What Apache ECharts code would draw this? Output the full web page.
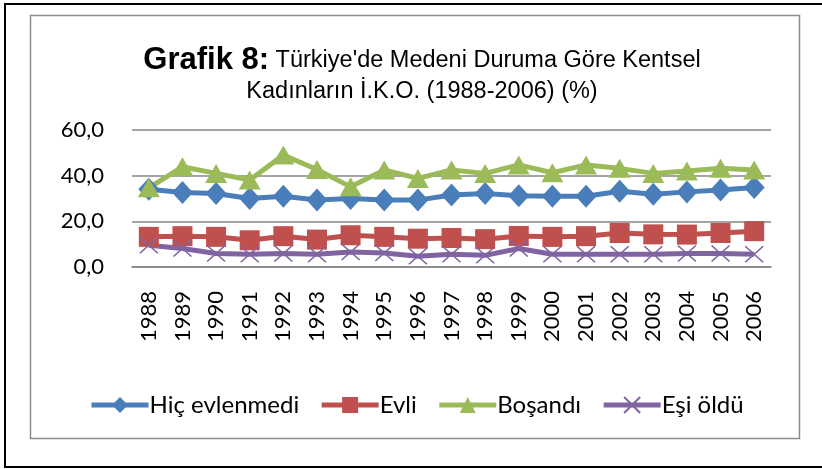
<!DOCTYPE html>
<html>
<head>
<meta charset="utf-8">
<script src="https://cdn.jsdelivr.net/npm/echarts@6/dist/echarts.min.js"></script>
<style>
  html, body { margin: 0; padding: 0; background: #fff; }
  #main { width: 822px; height: 469px; }
</style>
</head>
<body>
<div id="main"></div>
<script>
// veriler
var years = ['1988', '1989', '1990', '1991', '1992', '1993', '1994', '1995', '1996', '1997',
  '1998', '1999', '2000', '2001', '2002', '2003', '2004', '2005', '2006'];
var hicEvlenmedi = [34.1, 32.6, 32.2, 30.0, 31.0, 29.3, 30.0, 29.3, 29.3, 31.5,
  32.2, 31.2, 31.0, 31.0, 33.2, 31.9, 32.9, 33.7, 34.8];
var evli = [13.2, 13.5, 13.2, 11.7, 13.5, 12.0, 13.9, 13.2, 12.4, 12.7,
  12.2, 13.6, 13.2, 13.5, 14.9, 14.3, 14.2, 14.9, 15.7];
var bosandi = [34.7, 43.9, 41.0, 38.1, 49.0, 42.7, 35.1, 42.5, 38.8, 42.5,
  41.0, 44.7, 41.3, 44.7, 43.2, 41.0, 42.0, 43.2, 42.5];
var esiOldu = [9.5, 8.1, 5.9, 5.6, 5.9, 5.6, 6.6, 6.1, 4.7, 5.6,
  5.1, 8.1, 5.6, 5.6, 5.6, 5.6, 5.9, 5.9, 5.6];
var yTicks = [0, 20, 40, 60];

var myChart = echarts.init(document.getElementById('main'));

var fontAd = 'Lato, "Noto Sans", sans-serif';
var baslikFont = '"Liberation Sans", Arial, sans-serif';

function seri(ad, veri, renk, sembol, boyut, extra) {
  var s = {
    name: ad,
    type: 'line',
    data: veri,
    symbol: sembol,
    symbolSize: boyut,
    showAllSymbol: true,
    lineStyle: { color: renk, width: 5 },
    itemStyle: { color: renk },
    emphasis: { disabled: true },
    animation: false
  };
  if (extra) {
    s.itemStyle = extra;
  }
  return s;
}

var option = {
  backgroundColor: '#fff',
  title: {
    text: '{b|Grafik 8:} Türkiye\'de Medeni Duruma Göre Kentsel\nKadınların İ.K.O. (1988-2006) (%)',
    left: 417,
    top: 40,
    textAlign: 'center',
    textStyle: {
      fontFamily: baslikFont,
      fontSize: 23.5,
      fontWeight: 'normal',
      color: '#000',
      lineHeight: 31,
      align: 'center',
      rich: {
        b: { fontFamily: baslikFont, fontSize: 31, fontWeight: 'bold', color: '#000', lineHeight: 31 }
      }
    }
  },
  legend: {
    top: 388,
    left: 84,
    itemWidth: 57,
    itemHeight: 20,
    itemGap: 20,
    lineStyle: { width: 5 },
    textStyle: { fontFamily: fontAd, fontSize: 24, color: '#000', padding: [0, 0, 0, -4] },
    data: ['Hiç evlenmedi', 'Evli', 'Boşandı', 'Eşi öldü']
  },
  grid: { left: 132, right: 51, top: 130, bottom: 202, containLabel: false },
  xAxis: {
    type: 'category',
    data: years,
    boundaryGap: true,
    axisLine: { lineStyle: { color: '#868686', width: 1.5 } },
    axisTick: { show: false },
    axisLabel: { rotate: 90, margin: 24, fontFamily: fontAd, fontSize: 22, color: '#000', interval: 0 }
  },
  yAxis: {
    type: 'value',
    min: yTicks[0],
    max: yTicks[yTicks.length - 1],
    interval: 20,
    axisLine: { show: false },
    axisTick: { show: false },
    splitLine: { lineStyle: { color: '#868686', width: 1.5 } },
    axisLabel: {
      margin: 28,
      fontFamily: fontAd,
      fontSize: 22,
      color: '#000',
      formatter: function (v) { return v.toFixed(1).replace('.', ','); }
    }
  },
  graphic: [
    {
      type: 'rect',
      shape: { x: 5, y: 4, width: 820, height: 463 },
      style: { fill: 'none', stroke: '#000', lineWidth: 2 },
      silent: true
    },
    {
      type: 'rect',
      shape: { x: 30.5, y: 15.5, width: 769, height: 423 },
      style: { fill: 'none', stroke: '#8c8c8c', lineWidth: 1.5 },
      silent: true
    }
  ],
  series: [
    seri('Hiç evlenmedi', hicEvlenmedi, '#4a7ebb', 'diamond', [21, 23]),
    seri('Evli', evli, '#c0504d', 'rect', 20),
    seri('Boşandı', bosandi, '#9bbb59', 'triangle', [22, 19]),
    seri('Eşi öldü', esiOldu, '#8064a2', 'path://M0,0L10,10M10,0L0,10', [18, 16],
      { color: 'none', borderColor: '#8064a2', borderWidth: 1.5 })
  ]
};

myChart.setOption(option);
</script>
</body>
</html>
